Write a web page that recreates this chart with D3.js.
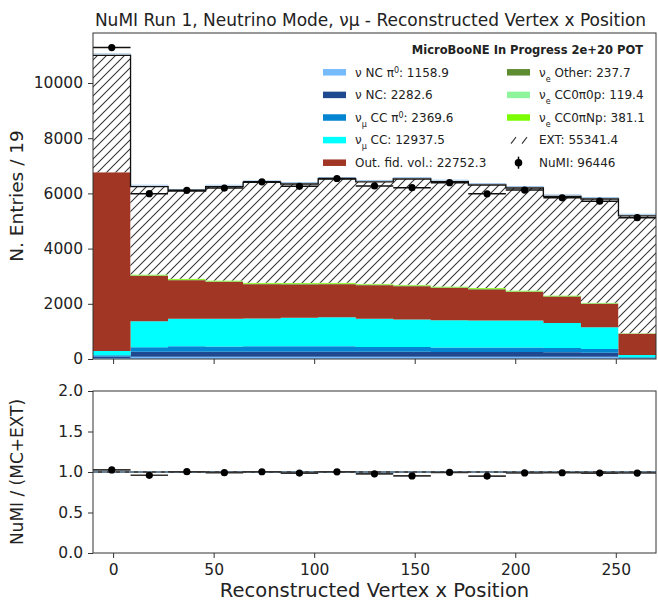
<!DOCTYPE html>
<html>
<head>
<meta charset="utf-8">
<script src="https://cdn.jsdelivr.net/npm/d3@7"></script>
<style>
  body { margin: 0; background: #fff; }
  svg { display: block; }
  text { font-family: "DejaVu Sans", sans-serif; fill: #222; }
</style>
</head>
<body>
<svg id="chart" width="658" height="605"></svg>
<script>
// Bin edges of the reconstructed vertex x histogram (15 bins over [-10, 270])
const binEdges = [-10, 8.67, 27.33, 46, 64.67, 83.33, 102, 120.67, 139.33, 158, 176.67, 195.33, 214, 232.67, 251.33, 270];

// Stacked components, bottom to top (entries per bin)
const nuNCpi0     = [40, 85, 85, 85, 85, 85, 85, 85, 85, 85, 85, 85, 80, 83.9, 20];
const nuNC        = [50, 180, 175, 175, 175, 175, 175, 175, 175, 170, 170, 165, 165, 142.6, 15];
const numuCCpi0   = [44.6, 165, 200, 195, 200, 200, 200, 175, 175, 165, 165, 165, 155, 135, 30];
const numuCC      = [155.4, 942, 996, 1001, 1008, 1032, 1057, 1021, 997, 988, 979, 984, 902, 791.1, 84];
const outFidVol   = [6473, 1637, 1393, 1333, 1236, 1205, 1187, 1214, 1202, 1167.3, 1116, 1033, 951.6, 840.3, 764.1];
const nueOther    = [3, 18, 18, 18, 18, 18, 18, 18, 18, 17.7, 17, 17, 16, 15, 8];
const nueCC0pi0p  = [1, 9, 9, 9, 9, 9, 9, 9, 9, 9, 9, 9, 8.4, 8, 3];
const nueCC0piNp  = [4, 28, 31, 31, 31, 31, 31, 29, 29, 28, 28, 27, 25, 22.1, 6];
const extBkg      = [4232, 3179, 3179, 3396, 3639, 3585, 3760, 3690, 3832, 3795, 3735, 3710, 3591, 3759, 4259.4];

// Beam-on data
const numiData    = [11285, 5990, 6110, 6193, 6420, 6255, 6540, 6270, 6206, 6389, 5985, 6121, 5841, 5719, 5122];

// Tick labels
const mainYTicks  = [0, 2000, 4000, 6000, 8000, 10000];
const ratioYTicks = [0, 0.5, 1.0, 1.5, 2.0];
const xTicks      = [0, 50, 100, 150, 200, 250];

const layerKeys = ["nuNCpi0", "nuNC", "numuCCpi0", "numuCC", "outFidVol", "nueOther", "nueCC0pi0p", "nueCC0piNp", "ext"];
const layerColors = {
  nuNCpi0: "#75bbfd", nuNC: "#1e488f", numuCCpi0: "#0485d1", numuCC: "#00ffff",
  outFidVol: "#a03623", nueOther: "#5e8c31", nueCC0pi0p: "#8ff59c", nueCC0piNp: "#7cfc00",
  ext: "url(#hatch)"
};

const table = binEdges.slice(0, -1).map((lo, i) => ({
  lo, hi: binEdges[i + 1],
  nuNCpi0: nuNCpi0[i], nuNC: nuNC[i], numuCCpi0: numuCCpi0[i], numuCC: numuCC[i],
  outFidVol: outFidVol[i], nueOther: nueOther[i], nueCC0pi0p: nueCC0pi0p[i],
  nueCC0piNp: nueCC0piNp[i], ext: extBkg[i], data: numiData[i]
}));
table.forEach(r => { r.total = layerKeys.reduce((s, k) => s + r[k], 0); });

const svg = d3.select("#chart");
const plotL = 93, plotR = 656;
const mainTop = 33, mainBot = 359;
const ratTop = 391, ratBot = 553;

const x = d3.scaleLinear().domain([binEdges[0], binEdges[binEdges.length - 1]]).range([plotL, plotR]);
const y = d3.scaleLinear().domain([0, 11812]).range([mainBot, mainTop]);
const yr = d3.scaleLinear().domain([0, 2]).range([ratBot, ratTop]);

// Hatch for the beam-off (EXT) layer
const defs = svg.append("defs");
const pat = defs.append("pattern").attr("id", "hatch")
  .attr("patternUnits", "userSpaceOnUse").attr("width", 9).attr("height", 9);
pat.append("rect").attr("width", 9).attr("height", 9).attr("fill", "#fff");
pat.append("path").attr("d", "M-2,2 L2,-2 M0,9 L9,0 M7,11 L11,7")
  .attr("stroke", "#333").attr("stroke-width", 1.05);
defs.append("clipPath").attr("id", "clipMain").append("rect")
  .attr("x", plotL).attr("y", mainTop).attr("width", plotR - plotL).attr("height", mainBot - mainTop);

// Stacked histogram drawn as step areas
const stack = d3.stack().keys(layerKeys)(table);
const stepPts = layer => layer.flatMap(d => [
  { xv: d.data.lo, y0: d[0], y1: d[1] },
  { xv: d.data.hi, y0: d[0], y1: d[1] }
]);
const area = d3.area().x(p => x(p.xv)).y0(p => y(p.y0)).y1(p => y(p.y1));

const gMain = svg.append("g").attr("clip-path", "url(#clipMain)");
stack.forEach(layer => {
  gMain.append("path").attr("d", area(stepPts(layer)))
    .attr("fill", layerColors[layer.key]).attr("stroke", "none");
});

// Outline of the total prediction
const topPts = table.flatMap(r => [{ xv: r.lo, v: r.total }, { xv: r.hi, v: r.total }]);
const lineTop = d3.line().x(p => x(p.xv)).y(p => y(p.v));
gMain.append("path").attr("d", lineTop(topPts))
  .attr("transform", "translate(0,-1.5)")
  .attr("fill", "none").attr("stroke", "#9cc2e4").attr("stroke-width", 0.9);
gMain.append("path").attr("d", lineTop(topPts))
  .attr("fill", "none").attr("stroke", "#111").attr("stroke-width", 1.3);

// Data points with bin-width and statistical error bars
const gData = gMain.append("g");
table.forEach(r => {
  const cx = x((r.lo + r.hi) / 2), cy = y(r.data), e = Math.sqrt(r.data);
  gData.append("line").attr("x1", x(r.lo)).attr("x2", x(r.hi)).attr("y1", cy).attr("y2", cy)
    .attr("stroke", "#111").attr("stroke-width", 1.5);
  gData.append("line").attr("x1", cx).attr("x2", cx).attr("y1", y(r.data - e)).attr("y2", y(r.data + e))
    .attr("stroke", "#111").attr("stroke-width", 1.5);
  gData.append("circle").attr("cx", cx).attr("cy", cy).attr("r", 3.6).attr("fill", "#000");
});

// Ratio panel
const gRat = svg.append("g");
gRat.append("line").attr("x1", plotL).attr("x2", plotR).attr("y1", yr(1)).attr("y2", yr(1))
  .attr("stroke", "#111").attr("stroke-width", 1.6);
gRat.append("line").attr("x1", plotL).attr("x2", plotR).attr("y1", yr(1)).attr("y2", yr(1))
  .attr("stroke", "#7fb6e6").attr("stroke-width", 1).attr("stroke-dasharray", "5,4");
table.forEach(r => {
  const ratio = r.data / r.total, err = Math.sqrt(r.data) / r.total;
  const cx = x((r.lo + r.hi) / 2), cy = yr(ratio);
  gRat.append("line").attr("x1", x(r.lo)).attr("x2", x(r.hi)).attr("y1", cy).attr("y2", cy)
    .attr("stroke", "#333").attr("stroke-width", 1.6);
  gRat.append("line").attr("x1", cx).attr("x2", cx).attr("y1", yr(ratio - err)).attr("y2", yr(ratio + err))
    .attr("stroke", "#111").attr("stroke-width", 1.5);
  gRat.append("circle").attr("cx", cx).attr("cy", cy).attr("r", 3.6).attr("fill", "#000");
});

// Frames
[[mainTop, mainBot], [ratTop, ratBot]].forEach(([t, b]) => {
  svg.append("rect").attr("x", plotL).attr("y", t).attr("width", plotR - plotL).attr("height", b - t)
    .attr("fill", "none").attr("stroke", "#333").attr("stroke-width", 1);
});

// Axes
function styleAxis(g) {
  g.select(".domain").remove();
  g.selectAll(".tick line").attr("stroke", "#333");
  g.selectAll(".tick text").style("font-size", "15.5px").style("font-family", "DejaVu Sans, sans-serif").attr("fill", "#222");
}
svg.append("g").attr("transform", `translate(${plotL},0)`)
  .call(d3.axisLeft(y).tickValues(mainYTicks).tickSize(5).tickPadding(5).tickFormat(d3.format("d")))
  .call(styleAxis);
svg.append("g").attr("transform", `translate(0,${mainBot})`)
  .call(d3.axisBottom(x).tickValues(xTicks).tickSize(5).tickFormat(""))
  .call(styleAxis);
svg.append("g").attr("transform", `translate(${plotL},0)`)
  .call(d3.axisLeft(yr).tickValues(ratioYTicks).tickSize(5).tickPadding(5).tickFormat(d3.format(".1f")))
  .call(styleAxis);
svg.append("g").attr("transform", `translate(0,${ratBot})`)
  .call(d3.axisBottom(x).tickValues(xTicks).tickSize(5).tickPadding(6).tickFormat(d3.format("d")))
  .call(styleAxis);

// Titles and axis labels
svg.append("text").attr("x", (plotL + plotR) / 2 - 4).attr("y", 26).attr("text-anchor", "middle")
  .style("font-size", "17px").text("NuMI Run 1, Neutrino Mode, νμ - Reconstructed Vertex x Position");
svg.append("text").attr("x", (plotL + plotR) / 2).attr("y", 597).attr("text-anchor", "middle")
  .style("font-size", "19.5px").text("Reconstructed Vertex x Position");
svg.append("text").attr("transform", `translate(17,${(mainTop + mainBot) / 2}) rotate(-90)`)
  .attr("dy", "0.35em").attr("text-anchor", "middle").style("font-size", "18.5px").text("N. Entries / 19");
svg.append("text").attr("transform", `translate(17,${(ratTop + ratBot) / 2}) rotate(-90)`)
  .attr("dy", "0.35em").attr("text-anchor", "middle").style("font-size", "17px").text("NuMI / (MC+EXT)");

// Legend
svg.append("text").attr("x", 643).attr("y", 54).attr("text-anchor", "end")
  .style("font-size", "11.5px").style("font-weight", "bold").text("MicroBooNE In Progress 2e+20 POT");

const fmt1 = v => (Math.round(v * 10) / 10).toFixed(1);
const legendEntries = [
  { col: 0, row: 0, key: "nuNCpi0",    parts: [["ν NC π"], ["0", "sup"], [": " + fmt1(d3.sum(nuNCpi0))]] },
  { col: 0, row: 1, key: "nuNC",       parts: [["ν NC: " + fmt1(d3.sum(nuNC))]] },
  { col: 0, row: 2, key: "numuCCpi0",  parts: [["ν"], ["μ", "sub"], [" CC π"], ["0", "sup"], [": " + fmt1(d3.sum(numuCCpi0))]] },
  { col: 0, row: 3, key: "numuCC",     parts: [["ν"], ["μ", "sub"], [" CC: " + fmt1(d3.sum(numuCC))]] },
  { col: 0, row: 4, key: "outFidVol",  parts: [["Out. fid. vol.: " + fmt1(d3.sum(outFidVol))]] },
  { col: 1, row: 0, key: "nueOther",   parts: [["ν"], ["e", "sub"], [" Other: " + fmt1(d3.sum(nueOther))]] },
  { col: 1, row: 1, key: "nueCC0pi0p", parts: [["ν"], ["e", "sub"], [" CC0π0p: " + fmt1(d3.sum(nueCC0pi0p))]] },
  { col: 1, row: 2, key: "nueCC0piNp", parts: [["ν"], ["e", "sub"], [" CC0πNp: " + fmt1(d3.sum(nueCC0piNp))]] },
  { col: 1, row: 3, key: "ext",        parts: [["EXT: " + fmt1(d3.sum(extBkg))]] },
  { col: 1, row: 4, key: "data",       parts: [["NuMI: " + d3.sum(numiData)]] }
];
const colX = [323, 507], rowY0 = 72.3, rowStep = 22.6, swW = 23, swH = 6.5;
const gLeg = svg.append("g");
legendEntries.forEach(e => {
  const sx = colX[e.col], cy = rowY0 + e.row * rowStep;
  if (e.key === "data") {
    gLeg.append("line").attr("x1", sx + swW / 2).attr("x2", sx + swW / 2).attr("y1", cy - 6).attr("y2", cy + 6)
      .attr("stroke", "#000").attr("stroke-width", 1.5);
    gLeg.append("circle").attr("cx", sx + swW / 2).attr("cy", cy).attr("r", 3.8).attr("fill", "#000");
  } else if (e.key === "ext") {
    // two hatch strokes as the beam-off key
    [sx + 4, sx + 15].forEach(hx => {
      gLeg.append("line").attr("x1", hx).attr("y1", cy + 3.5).attr("x2", hx + 5).attr("y2", cy - 3)
        .attr("stroke", "#333").attr("stroke-width", 1.1);
    });
  } else {
    gLeg.append("rect").attr("x", sx).attr("y", cy - swH / 2).attr("width", swW).attr("height", swH)
      .attr("fill", layerColors[e.key]);
  }
  const t = gLeg.append("text").attr("x", sx + 32).attr("y", cy + 4.3).style("font-size", "12px");
  e.parts.forEach(([s, kind]) => {
    const ts = t.append("tspan").text(s);
    if (kind === "sup") ts.attr("baseline-shift", "super").style("font-size", "8px");
    if (kind === "sub") ts.attr("baseline-shift", "sub").style("font-size", "8px");
  });
});
</script>
</body>
</html>
